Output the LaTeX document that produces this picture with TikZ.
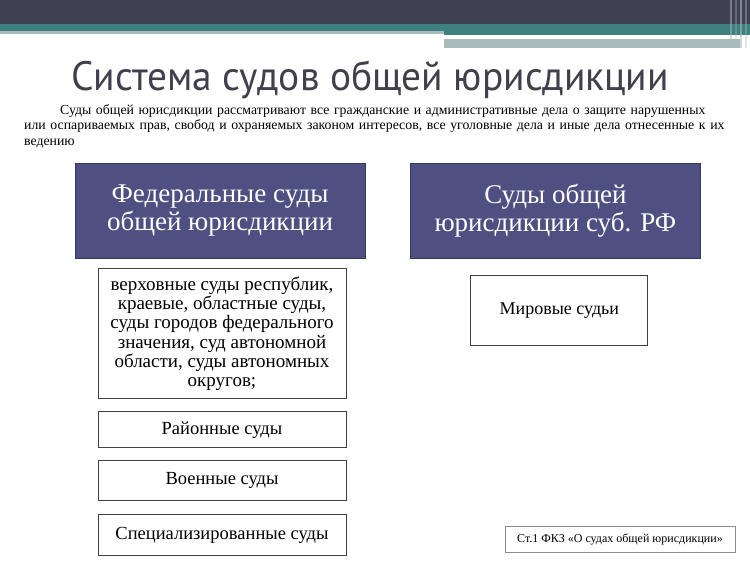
\documentclass[tikz,border=0pt]{standalone}
\usepackage{fontspec}
\setmainfont{Liberation Serif}
\newfontfamily\titlefont{PT Sans}
\usetikzlibrary{positioning}
\definecolor{bandgrey}{RGB}{64,65,82}
\definecolor{bandteal}{RGB}{62,128,128}
\definecolor{bandlight}{RGB}{168,186,186}
\definecolor{headfill}{RGB}{79,80,130}
\definecolor{titlegrey}{RGB}{64,64,76}

\begin{document}
\begin{tikzpicture}[x=1pt,y=-1pt,
    head/.style={draw=headfill!70!black, fill=headfill, text=white, minimum width=290pt, minimum height=95pt, align=center, inner sep=0pt, font=\fontsize{27}{28}\selectfont},
    item/.style={draw=black!75, line width=1pt, fill=white, align=center, inner sep=0pt, minimum width=248pt, font=\fontsize{18.5}{19.5}\selectfont}]
        \useasboundingbox (0,0) rectangle (750,561);
        % top band
        \fill[bandgrey] (0,0) rectangle (750,24);
        \fill[bandteal] (0,24) rectangle (750,31);
        \fill[bandteal] (444,31) rectangle (750,35);
        \fill[bandlight] (0,31) rectangle (444,34);
        \fill[bandlight] (444,39) rectangle (740,48);
        \foreach \x/\o in {731/0.5, 736/0.35, 741/0.6, 746/0.4}
            \draw[bandlight, opacity=\o, line width=1.5pt] (\x,0) -- (\x,48);
        
        \node[text=titlegrey, anchor=base, inner sep=0pt, font=\titlefont\fontsize{41}{45}\selectfont] (title) at (370,91) {\scalebox{0.96}[1]{Система судов общей юрисдикции}};
        \node[anchor=north west, text width=716pt, align=left, inner sep=0pt, font=\fontsize{13.8}{15.8}\selectfont] (intro) at (24,104)
            {\hspace*{36pt}Суды общей юрисдикции рассматривают все гражданские и административные дела о защите нарушенных\\
            или оспариваемых прав, свобод и охраняемых законом интересов, все уголовные дела и иные дела отнесенные к их\\
            ведению};
        
        \node[head] (fed) at (220,210.5) {Федеральные суды\\общей юрисдикции};
        \node[head, right=45pt of fed] (subj) {Суды общей\\юрисдикции суб. РФ};
        
        \node[item, minimum height=130pt, below=10pt of fed, xshift=2pt, font=\fontsize{19}{19.2}\selectfont] (higher) {верховные суды республик,\\краевые, областные суды,\\суды городов федерального\\значения, суд автономной\\области, суды автономных\\округов;};
        \node[item, minimum height=36pt, below=12pt of higher] (district) {Районные суды};
        \node[item, minimum height=40pt, below=12pt of district] (military) {Военные суды};
        \node[item, minimum height=41pt, below=13pt of military] (special) {Специализированные суды};
        
        \node[item, minimum width=177pt, minimum height=70pt, below=17pt of subj, xshift=4pt, font=\fontsize{18}{19}\selectfont] (peace) {Мировые судьи};
        
        \node[draw=black!45, minimum width=230pt, minimum height=26pt, inner sep=0pt, font=\fontsize{12}{14}\selectfont] (law) at (620,539) {Ст.1 ФКЗ «О судах общей юрисдикции»};
    \end{tikzpicture}
\end{document}
